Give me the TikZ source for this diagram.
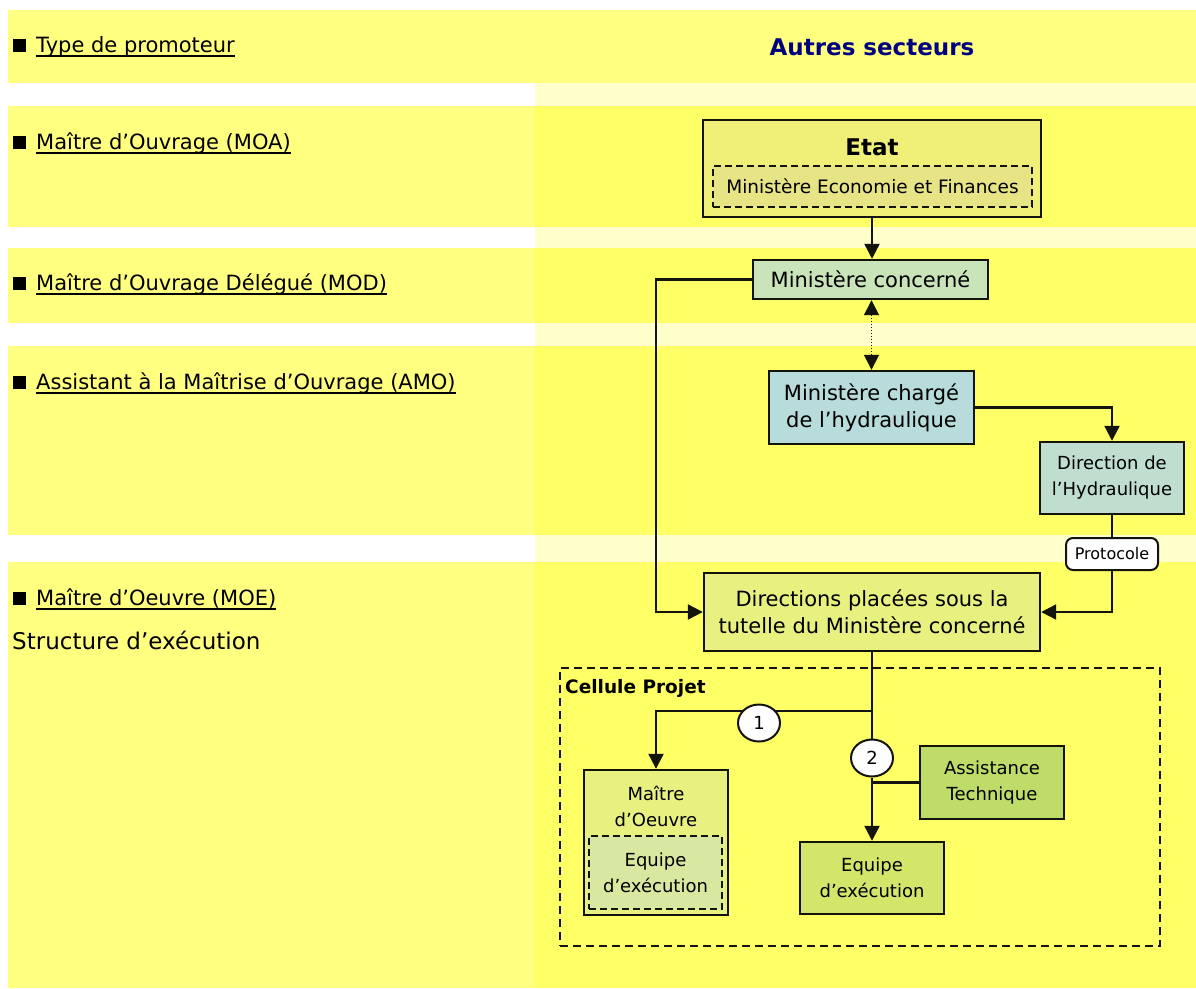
\documentclass[tikz,border=0pt]{standalone}
\usepackage{fontspec}
\setmainfont{DejaVu Sans}
\usetikzlibrary{arrows.meta,shapes.geometric,calc}

\definecolor{bandL}{RGB}{255,255,128}
\definecolor{bandR}{RGB}{255,255,102}
\definecolor{gapR}{RGB}{255,255,204}
\definecolor{etatfill}{RGB}{240,240,120}
\definecolor{meffill}{RGB}{230,228,132}
\definecolor{mcfill}{RGB}{200,228,184}
\definecolor{mchfill}{RGB}{184,220,220}
\definecolor{dhfill}{RGB}{192,222,208}
\definecolor{dpfill}{RGB}{232,240,128}
\definecolor{mofill}{RGB}{232,240,128}
\definecolor{moinfill}{RGB}{216,232,160}
\definecolor{eqfill}{RGB}{212,230,106}
\definecolor{atfill}{RGB}{192,220,104}
\definecolor{navy}{RGB}{0,0,128}
\definecolor{edge}{RGB}{20,20,15}

\newcommand{\fsz}[2]{\fontsize{#1}{#2}\selectfont}

\begin{document}
\begin{tikzpicture}[x=1pt,y=-1pt,
  box/.style={draw=edge, line width=2.4pt, inner sep=0pt, align=center},
  dbox/.style={draw=edge, line width=2pt, dash pattern=on 7pt off 4pt, inner sep=0pt, align=center},
  conn/.style={draw=edge, line width=2.2pt},
  tip/.style={-{Triangle[length=15pt,width=15pt]}},
  lbl/.style={inner sep=0pt, anchor=base west, font=\fsz{21}{25}},
  ul/.style={draw=black, line width=2pt},
  numc/.style={ellipse, draw=edge, line width=2pt, fill=white, inner sep=0pt,
               minimum width=42pt, minimum height=37pt, font=\fsz{18}{20}},
  btxt/.style={font=\fsz{18}{26}},
  mtxt/.style={font=\fsz{21}{27}},
]
\useasboundingbox (0,0) rectangle (1196,988);

% ---- horizontal bands: left column
\fill[bandL] (8,10)  rectangle (535,83);
\fill[bandL] (8,106) rectangle (535,227);
\fill[bandL] (8,248) rectangle (535,323);
\fill[bandL] (8,346) rectangle (535,535);
\fill[bandL] (8,562) rectangle (535,988);
% ---- right column
\fill[bandL] (535,10)  rectangle (1196,83);
\fill[gapR]  (535,83)  rectangle (1196,106);
\fill[bandR] (535,106) rectangle (1196,227);
\fill[gapR]  (535,227) rectangle (1196,248);
\fill[bandR] (535,248) rectangle (1196,323);
\fill[gapR]  (535,323) rectangle (1196,346);
\fill[bandR] (535,346) rectangle (1196,535);
\fill[gapR]  (535,535) rectangle (1196,562);
\fill[bandR] (535,562) rectangle (1196,988);

% ---- row labels
\node[lbl] (tp)  at (36,52)  {Type de promoteur};
\node[lbl] (moa) at (36,149) {Maître d’Ouvrage (MOA)};
\node[lbl] (mod) at (36,290) {Maître d’Ouvrage Délégué (MOD)};
\node[lbl] (amo) at (36,389) {Assistant à la Maîtrise d’Ouvrage (AMO)};
\node[lbl] (moe) at (36,605) {Maître d’Oeuvre (MOE)\ };
\node[inner sep=0pt, anchor=base west, font=\fsz{23}{27}] (se) at (12,649) {Structure d’exécution};
\foreach \n in {tp,moa,mod,amo,moe}{
  \draw[ul] ([yshift=-3.5pt]\n.base west) -- ([yshift=-3.5pt]\n.base east);
  \fill[black] ([xshift=-23pt]\n.base west) rectangle ([xshift=-10pt,yshift=13pt]\n.base west);
}

\node[font=\bfseries\fsz{23}{27}, text=navy] (as) at (872,47) {Autres secteurs};

% ---- project cell frame
\node[draw=edge, line width=2pt, dash pattern=on 8pt off 5pt, minimum width=600pt,
      minimum height=278pt, inner sep=0pt] (cp) at (860,807) {};
\node[font=\bfseries\fsz{18.5}{22}, anchor=west, inner sep=0pt] (cpl) at (565,688) {Cellule Projet};

% ---- boxes
\node[box, fill=etatfill, minimum width=338pt, minimum height=97pt] (etat) at (872,168.5) {};
\node[font=\bfseries\fsz{23}{27}, inner sep=0pt] (etatl) at (872,147) {Etat};
\node[dbox, fill=meffill, minimum width=319pt, minimum height=41pt, font=\fsz{18.5}{22}] (mef) at (872.5,186.5) {Ministère Economie et Finances};

\node[box, fill=mcfill, minimum width=235pt, minimum height=39pt, mtxt] (mc) at (870.5,279.5) {Ministère concerné};
\node[box, fill=mchfill, minimum width=205pt, minimum height=73pt, mtxt] (mch) at (871.5,407.5) {Ministère chargé\\de l’hydraulique};
\node[box, fill=dhfill, minimum width=144pt, minimum height=72pt, btxt] (dh) at (1112,478) {Direction de\\l’Hydraulique};
\node[draw=edge, line width=2pt, fill=white, rounded corners=7pt, minimum width=92pt,
      minimum height=32pt, inner sep=0pt, font=\fsz{16}{20}] (proto) at (1112,554) {Protocole};
\node[box, fill=dpfill, minimum width=336pt, minimum height=78pt, mtxt] (dp) at (872,612) {Directions placées sous la\\tutelle du Ministère concerné};

\node[box, fill=mofill, minimum width=144pt, minimum height=145pt] (mo) at (656,842.5) {};
\node[btxt, inner sep=0pt, align=center] (mol) at (656,806) {Maître\\d’Oeuvre};
\node[dbox, fill=moinfill, minimum width=133pt, minimum height=73pt, btxt] (moeq) at (655.5,872.5) {Equipe\\d’exécution};
\node[box, fill=eqfill, minimum width=144pt, minimum height=72pt, btxt] (eq) at (872,878) {Equipe\\d’exécution};
\node[box, fill=atfill, minimum width=144pt, minimum height=73pt, btxt] (at) at (992,782.5) {Assistance\\Technique};

% ---- routing points
\coordinate (lx) at (656,450);
\coordinate (j1) at (872,711);

% ---- connectors
\draw[conn, tip] (etat.south) -- (etat.south |- mc.north);
\draw[conn, tip] (mc.west) -| (lx) |- (dp.west);
\draw[draw=edge, line width=1.5pt, dash pattern=on 1.5pt off 1.5pt,
      {Triangle[length=15pt,width=15pt]}-{Triangle[length=15pt,width=15pt]}]
      (mch.north |- mc.south) -- (mch.north);
\draw[conn, tip] (mch.east) -| (dh.north);
\draw[conn] (dh.south) -- (proto.north);
\draw[conn, tip] (proto.south) |- (dp.east);
\draw[conn] (dp.south) -- (j1);
\draw[conn, tip] (j1) -| (mo.north);
\node[numc] (c1) at (759,723) {1};
\node[numc] (c2) at (872,758) {2};
\draw[conn] (j1) -- (c2.north);
\draw[conn, tip] (c2.south) -- (eq.north);
\draw[conn] (at.west) -- (at.west -| eq.north);
\end{tikzpicture}
\end{document}
